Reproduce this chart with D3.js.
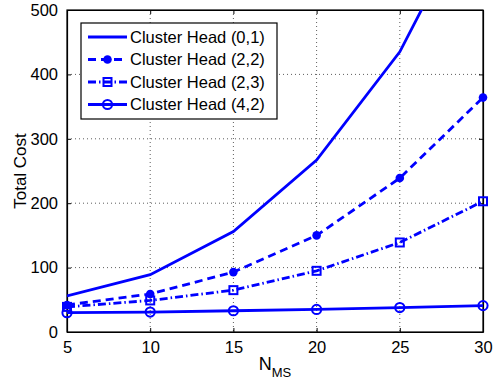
<!DOCTYPE html>
<html>
<head>
<meta charset="utf-8">
<script src="https://cdn.jsdelivr.net/npm/d3@7"></script>
<style>
body { margin: 0; background: #fff; }
text { font-family: "Liberation Sans", Arial, sans-serif; fill: #000; }
.grid line { stroke: #333; stroke-width: 0.8; stroke-dasharray: 1, 3; }
.axis path, .axis line { stroke: #000; }
</style>
</head>
<body>
<div id="chart"></div>
<script>
var xValues = [5, 10, 15, 20, 25, 30];
var ch01 = [56, 89, 156, 267, 435, 685];
var ch22 = [42, 59, 93, 150, 239, 364];
var ch23 = [39, 49, 65, 95, 139, 203];
var ch42 = [30, 31, 33, 35, 38, 41];
var seriesNames = ["Cluster Head (0,1)", "Cluster Head (2,2)", "Cluster Head (2,3)", "Cluster Head (4,2)"];
var xTicks = [5, 10, 15, 20, 25, 30];
var yTicks = [0, 100, 200, 300, 400, 500];

var series = [
  {name: seriesNames[0], values: ch01, dash: null, marker: null},
  {name: seriesNames[1], values: ch22, dash: "8,5", marker: "dot"},
  {name: seriesNames[2], values: ch23, dash: "8,3,1.5,3", marker: "square"},
  {name: seriesNames[3], values: ch42, dash: null, marker: "circle"}
];

var width = 497, height = 383;
var margin = {top: 10, right: 14, bottom: 51, left: 67};
var chartWidth = width - margin.left - margin.right;
var chartHeight = height - margin.top - margin.bottom;

var svg = d3.select("#chart").append("svg")
  .attr("width", width)
  .attr("height", height);

var defs = svg.append("defs");
defs.append("clipPath").attr("id", "clip")
  .append("rect").attr("width", chartWidth).attr("height", chartHeight);

var g = svg.append("g")
  .attr("transform", `translate(${margin.left}, ${margin.top})`);

var xScale = d3.scaleLinear().domain([5, 30]).range([0, chartWidth]);
var yScale = d3.scaleLinear().domain([0, 500]).range([chartHeight, 0]);

// dotted grid
g.append("g").attr("class", "grid")
  .selectAll("line.v").data(xTicks.slice(1, -1)).enter().append("line")
  .attr("x1", d => xScale(d)).attr("x2", d => xScale(d))
  .attr("y1", 0).attr("y2", chartHeight);
g.append("g").attr("class", "grid")
  .selectAll("line.h").data(yTicks.slice(1, -1)).enter().append("line")
  .attr("x1", 0).attr("x2", chartWidth)
  .attr("y1", d => yScale(d)).attr("y2", d => yScale(d));

// axes with inward ticks
var xAxis = d3.axisBottom(xScale).tickValues(xTicks).tickSizeInner(-4).tickSizeOuter(0).tickPadding(9);
var yAxis = d3.axisLeft(yScale).tickValues(yTicks).tickSizeInner(-4).tickSizeOuter(0).tickPadding(9);
var xTop = d3.axisTop(xScale).tickValues(xTicks).tickSizeInner(-4).tickSizeOuter(0).tickFormat("");
var yRight = d3.axisRight(yScale).tickValues(yTicks).tickSizeInner(-4).tickSizeOuter(0).tickFormat("");

g.append("g").attr("class", "x axis")
  .attr("transform", `translate(0,${chartHeight})`)
  .call(xAxis)
  .selectAll("text").style("font-size", "16.5px");
g.append("g").attr("class", "y axis")
  .call(yAxis)
  .selectAll("text").style("font-size", "16.5px");
g.append("g").attr("class", "axis").call(xTop);
g.append("g").attr("class", "axis").attr("transform", `translate(${chartWidth},0)`).call(yRight);
g.selectAll(".axis .domain").attr("stroke-width", 1.2);

g.append("rect")
  .attr("width", chartWidth).attr("height", chartHeight)
  .attr("fill", "none").attr("stroke", "#000").attr("stroke-width", 1.2);

// lines
var line = d3.line()
  .x((d, i) => xScale(xValues[i]))
  .y(d => yScale(d));

var plot = g.append("g").attr("clip-path", "url(#clip)");
var blue = "#0000ff";

series.forEach(function(s) {
  plot.append("path")
    .datum(s.values)
    .attr("d", line)
    .attr("fill", "none")
    .attr("stroke", blue)
    .attr("stroke-width", 2.8)
    .attr("stroke-dasharray", s.dash);
});

function drawMarker(sel, type, x, y) {
  if (type === "dot") {
    sel.append("circle").attr("cx", x).attr("cy", y).attr("r", 4.3).attr("fill", blue);
  } else if (type === "square") {
    sel.append("rect").attr("x", x - 4).attr("y", y - 4).attr("width", 8).attr("height", 8)
      .attr("fill", "none").attr("stroke", blue).attr("stroke-width", 2);
  } else if (type === "circle") {
    sel.append("circle").attr("cx", x).attr("cy", y).attr("r", 4.6)
      .attr("fill", "none").attr("stroke", blue).attr("stroke-width", 2);
  }
}

var markers = g.append("g");
series.forEach(function(s) {
  if (!s.marker) return;
  s.values.forEach(function(v, i) {
    drawMarker(markers, s.marker, xScale(xValues[i]), yScale(v));
  });
});

// axis labels
var xl = svg.append("text")
  .attr("x", margin.left + chartWidth / 2)
  .attr("y", 370)
  .attr("text-anchor", "middle")
  .style("font-size", "18px");
xl.append("tspan").text("N");
xl.append("tspan").attr("dy", 7).style("font-size", "13px").text("MS");

svg.append("text")
  .attr("transform", "translate(26, 171) rotate(-90)")
  .attr("text-anchor", "middle")
  .style("font-size", "17px")
  .text("Total Cost");

// legend
var legend = svg.append("g").attr("transform", "translate(81, 23)");
legend.append("rect")
  .attr("width", 196).attr("height", 96)
  .attr("fill", "#fff").attr("stroke", "#000").attr("stroke-width", 1.2);

series.forEach(function(s, i) {
  var y = 14 + i * 22.5;
  var row = legend.append("g");
  row.append("line")
    .attr("x1", 7).attr("x2", 46)
    .attr("y1", y).attr("y2", y)
    .attr("stroke", blue).attr("stroke-width", 2.8)
    .attr("stroke-dasharray", s.dash);
  if (s.marker) drawMarker(row, s.marker, 26.5, y);
  row.append("text")
    .attr("x", 49).attr("y", y)
    .attr("dy", "0.36em")
    .style("font-size", "16.5px")
    .text(s.name);
});
</script>
</body>
</html>
